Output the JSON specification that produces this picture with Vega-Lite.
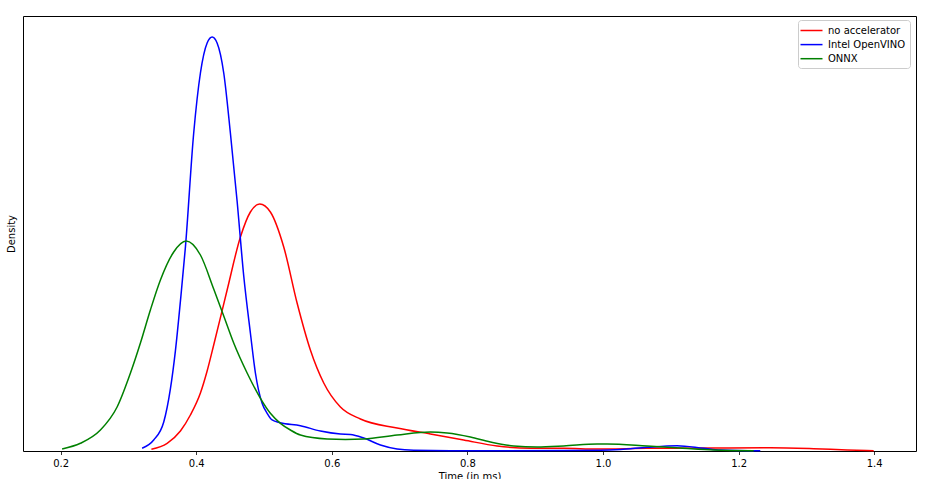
{
  "$schema": "https://vega.github.io/schema/vega-lite/v6.json",
  "autosize": "none",
  "padding": {"left": 23, "top": 16, "right": 18, "bottom": 28},
  "width": 893,
  "height": 435,
  "background": "white",
  "config": {
    "view": {"stroke": "#000000", "strokeWidth": 1},
    "font": "DejaVu Sans"
  },
  "datasets": {
    "kde": [
      {"series": "no accelerator", "t": 0.3339, "density": 0.041},
      {"series": "no accelerator", "t": 0.3571, "density": 0.186},
      {"series": "no accelerator", "t": 0.3767, "density": 0.483},
      {"series": "no accelerator", "t": 0.3914, "density": 0.87},
      {"series": "no accelerator", "t": 0.4062, "density": 1.401},
      {"series": "no accelerator", "t": 0.4161, "density": 1.932},
      {"series": "no accelerator", "t": 0.4258, "density": 2.56},
      {"series": "no accelerator", "t": 0.4456, "density": 3.889},
      {"series": "no accelerator", "t": 0.4652, "density": 5.169},
      {"series": "no accelerator", "t": 0.4799, "density": 5.773},
      {"series": "no accelerator", "t": 0.4937, "density": 5.966},
      {"series": "no accelerator", "t": 0.5094, "density": 5.773},
      {"series": "no accelerator", "t": 0.5291, "density": 4.928},
      {"series": "no accelerator", "t": 0.5488, "density": 3.575},
      {"series": "no accelerator", "t": 0.5684, "density": 2.44},
      {"series": "no accelerator", "t": 0.5881, "density": 1.643},
      {"series": "no accelerator", "t": 0.6127, "density": 1.063},
      {"series": "no accelerator", "t": 0.6422, "density": 0.773},
      {"series": "no accelerator", "t": 0.6963, "density": 0.556},
      {"series": "no accelerator", "t": 0.7454, "density": 0.411},
      {"series": "no accelerator", "t": 0.7945, "density": 0.266},
      {"series": "no accelerator", "t": 0.8438, "density": 0.121},
      {"series": "no accelerator", "t": 0.8929, "density": 0.065},
      {"series": "no accelerator", "t": 0.942, "density": 0.065},
      {"series": "no accelerator", "t": 0.9913, "density": 0.048},
      {"series": "no accelerator", "t": 1.065, "density": 0.065},
      {"series": "no accelerator", "t": 1.1633, "density": 0.072},
      {"series": "no accelerator", "t": 1.247, "density": 0.08},
      {"series": "no accelerator", "t": 1.3108, "density": 0.056},
      {"series": "no accelerator", "t": 1.3601, "density": 0.024},
      {"series": "no accelerator", "t": 1.3993, "density": 0.007},

      {"series": "Intel OpenVINO", "t": 0.3202, "density": 0.065},
      {"series": "Intel OpenVINO", "t": 0.3373, "density": 0.266},
      {"series": "Intel OpenVINO", "t": 0.3521, "density": 0.7},
      {"series": "Intel OpenVINO", "t": 0.3619, "density": 1.5},
      {"series": "Intel OpenVINO", "t": 0.3693, "density": 2.42},
      {"series": "Intel OpenVINO", "t": 0.3767, "density": 3.62},
      {"series": "Intel OpenVINO", "t": 0.3841, "density": 4.93},
      {"series": "Intel OpenVINO", "t": 0.3963, "density": 7.681},
      {"series": "Intel OpenVINO", "t": 0.4062, "density": 9.13},
      {"series": "Intel OpenVINO", "t": 0.4161, "density": 9.855},
      {"series": "Intel OpenVINO", "t": 0.4235, "density": 10.0},
      {"series": "Intel OpenVINO", "t": 0.4308, "density": 9.855},
      {"series": "Intel OpenVINO", "t": 0.4406, "density": 9.13},
      {"series": "Intel OpenVINO", "t": 0.4504, "density": 7.681},
      {"series": "Intel OpenVINO", "t": 0.4603, "density": 6.039},
      {"series": "Intel OpenVINO", "t": 0.4701, "density": 4.227},
      {"series": "Intel OpenVINO", "t": 0.4799, "density": 2.85},
      {"series": "Intel OpenVINO", "t": 0.4873, "density": 1.884},
      {"series": "Intel OpenVINO", "t": 0.4972, "density": 1.152},
      {"series": "Intel OpenVINO", "t": 0.5046, "density": 0.911},
      {"series": "Intel OpenVINO", "t": 0.5119, "density": 0.749},
      {"series": "Intel OpenVINO", "t": 0.5242, "density": 0.684},
      {"series": "Intel OpenVINO", "t": 0.5537, "density": 0.611},
      {"series": "Intel OpenVINO", "t": 0.5832, "density": 0.483},
      {"series": "Intel OpenVINO", "t": 0.6127, "density": 0.411},
      {"series": "Intel OpenVINO", "t": 0.6274, "density": 0.4},
      {"series": "Intel OpenVINO", "t": 0.6471, "density": 0.314},
      {"series": "Intel OpenVINO", "t": 0.6717, "density": 0.145},
      {"series": "Intel OpenVINO", "t": 0.6963, "density": 0.048},
      {"series": "Intel OpenVINO", "t": 0.7208, "density": 0.017},
      {"series": "Intel OpenVINO", "t": 0.775, "density": 0.007},
      {"series": "Intel OpenVINO", "t": 0.8487, "density": 0.007},
      {"series": "Intel OpenVINO", "t": 0.9372, "density": 0.01},
      {"series": "Intel OpenVINO", "t": 0.9962, "density": 0.017},
      {"series": "Intel OpenVINO", "t": 1.0257, "density": 0.036},
      {"series": "Intel OpenVINO", "t": 1.065, "density": 0.089},
      {"series": "Intel OpenVINO", "t": 1.1093, "density": 0.128},
      {"series": "Intel OpenVINO", "t": 1.1485, "density": 0.065},
      {"series": "Intel OpenVINO", "t": 1.1732, "density": 0.024},
      {"series": "Intel OpenVINO", "t": 1.232, "density": 0.005},

      {"series": "ONNX", "t": 0.2022, "density": 0.048},
      {"series": "ONNX", "t": 0.2292, "density": 0.186},
      {"series": "ONNX", "t": 0.2587, "density": 0.507},
      {"series": "ONNX", "t": 0.2833, "density": 1.063},
      {"series": "ONNX", "t": 0.303, "density": 1.884},
      {"series": "ONNX", "t": 0.3177, "density": 2.609},
      {"series": "ONNX", "t": 0.3324, "density": 3.406},
      {"series": "ONNX", "t": 0.3472, "density": 4.13},
      {"series": "ONNX", "t": 0.3668, "density": 4.807},
      {"series": "ONNX", "t": 0.3851, "density": 5.072},
      {"series": "ONNX", "t": 0.4062, "density": 4.734},
      {"series": "ONNX", "t": 0.4258, "density": 3.913},
      {"series": "ONNX", "t": 0.4406, "density": 3.261},
      {"series": "ONNX", "t": 0.4553, "density": 2.609},
      {"series": "ONNX", "t": 0.4751, "density": 1.884},
      {"series": "ONNX", "t": 0.4947, "density": 1.273},
      {"series": "ONNX", "t": 0.5094, "density": 0.911},
      {"series": "ONNX", "t": 0.5242, "density": 0.669},
      {"series": "ONNX", "t": 0.5389, "density": 0.507},
      {"series": "ONNX", "t": 0.5537, "density": 0.386},
      {"series": "ONNX", "t": 0.5931, "density": 0.29},
      {"series": "ONNX", "t": 0.62, "density": 0.278},
      {"series": "ONNX", "t": 0.6471, "density": 0.29},
      {"series": "ONNX", "t": 0.6963, "density": 0.386},
      {"series": "ONNX", "t": 0.7454, "density": 0.459},
      {"series": "ONNX", "t": 0.7701, "density": 0.435},
      {"series": "ONNX", "t": 0.8044, "density": 0.338},
      {"series": "ONNX", "t": 0.8339, "density": 0.217},
      {"series": "ONNX", "t": 0.8683, "density": 0.121},
      {"series": "ONNX", "t": 0.9028, "density": 0.097},
      {"series": "ONNX", "t": 0.942, "density": 0.121},
      {"series": "ONNX", "t": 0.9913, "density": 0.169},
      {"series": "ONNX", "t": 1.006, "density": 0.169},
      {"series": "ONNX", "t": 1.065, "density": 0.121},
      {"series": "ONNX", "t": 1.1142, "density": 0.072},
      {"series": "ONNX", "t": 1.1633, "density": 0.024},
      {"series": "ONNX", "t": 1.2223, "density": 0.007}
    ]
  },
  "data": {"name": "kde"},
  "mark": {"type": "line", "strokeWidth": 1.5, "interpolate": "monotone"},
  "encoding": {
    "x": {
      "field": "t",
      "type": "quantitative",
      "scale": {"domain": [0.1445, 1.4617], "nice": false, "zero": false},
      "axis": {
        "title": "Time (in ms)",
        "values": [0.2, 0.4, 0.6, 0.8, 1.0, 1.2, 1.4],
        "format": ".1f",
        "grid": false,
        "domain": false,
        "tickColor": "#000000",
        "tickSize": 3.5,
        "tickWidth": 0.8,
        "labelFont": "DejaVu Sans",
        "labelFontSize": 10,
        "labelColor": "#000000",
        "labelPadding": 3.5,
        "titleFont": "DejaVu Sans",
        "titleFontSize": 10,
        "titleFontWeight": "normal",
        "titleColor": "#000000",
        "titlePadding": 3
      }
    },
    "y": {
      "field": "density",
      "type": "quantitative",
      "scale": {"domain": [0, 10.507], "nice": false},
      "axis": {
        "title": "Density",
        "labels": false,
        "ticks": false,
        "grid": false,
        "domain": false,
        "titleFont": "DejaVu Sans",
        "titleFontSize": 10,
        "titleFontWeight": "normal",
        "titleColor": "#000000",
        "titlePadding": 7
      }
    },
    "color": {
      "field": "series",
      "type": "nominal",
      "sort": ["no accelerator", "Intel OpenVINO", "ONNX"],
      "scale": {
        "domain": ["no accelerator", "Intel OpenVINO", "ONNX"],
        "range": ["#ff0000", "#0000ff", "#008000"]
      },
      "legend": {
        "title": null,
        "orient": "none",
        "legendX": 775,
        "legendY": 4,
        "symbolType": "M-2,0H2",
        "symbolSize": 121,
        "symbolStrokeWidth": 1.5,
        "symbolOffset": 3,
        "labelOffset": 10,
        "labelFont": "DejaVu Sans",
        "labelFontSize": 10,
        "labelColor": "#000000",
        "rowPadding": 2.1,
        "padding": 4,
        "fillColor": "rgba(255,255,255,0.8)",
        "strokeColor": "#cccccc",
        "cornerRadius": 3
      }
    }
  }
}
